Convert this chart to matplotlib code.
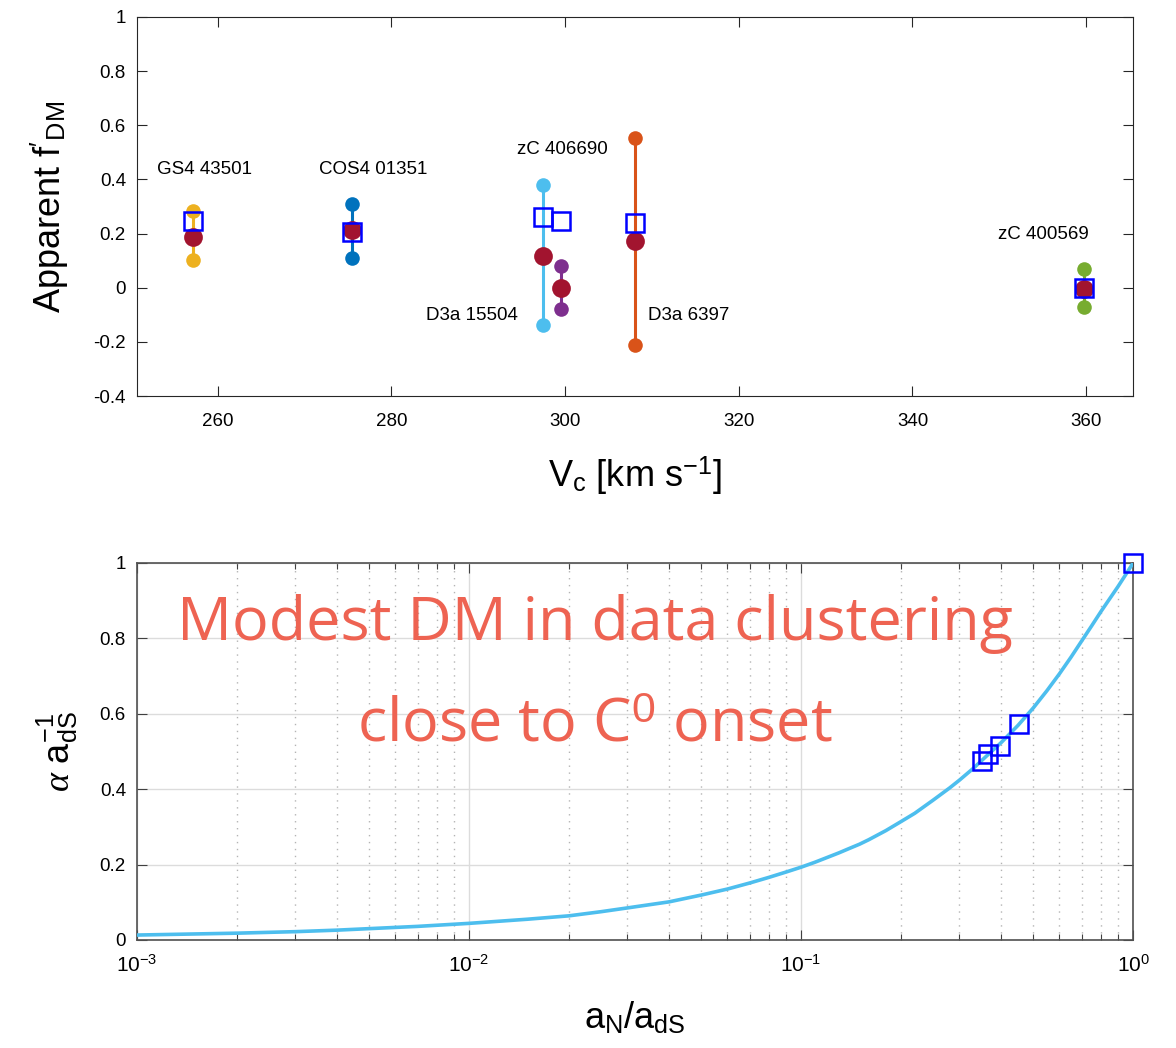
import matplotlib
matplotlib.use('Agg')
import matplotlib.pyplot as plt
from matplotlib.ticker import FormatStrFormatter, LogLocator, NullFormatter

plt.rcParams.update({
    'font.family': ['Liberation Sans', 'DejaVu Sans'],
    'mathtext.fontset': 'custom',
    'mathtext.rm': 'Liberation Sans',
    'mathtext.it': 'Liberation Serif:italic',
    'mathtext.bf': 'Liberation Sans:bold',
    'axes.unicode_minus': False,
    'xtick.direction': 'in',
    'ytick.direction': 'in',
    'xtick.top': True,
    'ytick.right': True,
})

# apparent DM fraction per galaxy
galaxies = ['GS4 43501', 'COS4 01351', 'D3a 15504', 'zC 406690', 'D3a 6397', 'zC 400569']
vc = [257.2, 275.4, 297.5, 299.5, 308.0, 359.7]
f_low = [0.102, 0.110, -0.138, -0.080, -0.211, -0.070]
f_high = [0.284, 0.311, 0.380, 0.081, 0.552, 0.071]
f_best = [0.188, 0.213, 0.118, 0.000, 0.174, -0.003]
f_model = [0.246, 0.207, 0.262, 0.246, 0.239, 0.000]
colors = ['#EDB120', '#0072BD', '#4DBEEE', '#7E2F8E', '#D95319', '#77AC30']

# alpha / a_dS versus a_N / a_dS
an_curve = [1e-3, 2e-3, 3e-3, 4e-3, 5e-3, 7e-3, 1e-2, 1.5e-2, 2e-2, 2.5e-2, 3e-2,
            4e-2, 5e-2, 6e-2, 7e-2, 8e-2, 9e-2, 0.1, 0.11, 0.12, 0.13, 0.14,
            0.15, 0.16, 0.18, 0.2, 0.22, 0.25, 0.28, 0.3, 0.33, 0.36, 0.4,
            0.45, 0.5, 0.55, 0.6, 0.65, 0.7, 0.75, 0.8, 0.85, 0.9, 0.95, 1.0]
alpha_curve = [0.013, 0.018, 0.022, 0.026, 0.030, 0.036, 0.044, 0.055, 0.064,
               0.075, 0.085, 0.101, 0.119, 0.135, 0.151, 0.166, 0.180, 0.193,
               0.206, 0.219, 0.231, 0.243, 0.254, 0.266, 0.290, 0.314, 0.336,
               0.371, 0.403, 0.424, 0.455, 0.486, 0.523, 0.569, 0.615, 0.661,
               0.706, 0.750, 0.793, 0.833, 0.871, 0.905, 0.937, 0.969, 1.0]
an_data = [0.351, 0.366, 0.396, 0.453, 1.0]
alpha_data = [0.476, 0.493, 0.515, 0.574, 1.0]

red = '#A2142F'
blue = '#0000FF'

fig = plt.figure(figsize=(11.76, 10.48), dpi=100)
ax1 = fig.add_axes([0.1165, 0.6221, 0.847, 0.3617])
ax2 = fig.add_axes([0.1165, 0.1031, 0.847, 0.3597])

# --- top panel ---
for x, lo, hi, c in zip(vc, f_low, f_high, colors):
    ax1.plot([x, x], [lo, hi], '-', color=c, lw=2.2, zorder=2)
    ax1.plot([x, x], [lo, hi], 'o', color=c, ms=10.5, mec='none', zorder=3)
ax1.plot(vc, f_best, 'o', color=red, ms=13.5, mec='none', ls='none', zorder=4)
ax1.plot(vc, f_model, 's', mfc='none', mec=blue, mew=1.8, ms=13, ls='none', zorder=5)

label_pos = [(258.5, 0.438), (277.9, 0.438), (289.3, -0.103),
             (299.7, 0.51), (314.2, -0.103), (355.1, 0.196)]
for name, (lx, ly) in zip(galaxies, label_pos):
    ax1.text(lx, ly, name, ha='center', va='center', fontsize=13.5, color='black')

ax1.set_xlim(250.7, 365.4)
ax1.set_ylim(-0.4, 1)
ax1.set_xticks([260, 280, 300, 320, 340, 360])
ax1.set_yticks([-0.4, -0.2, 0, 0.2, 0.4, 0.6, 0.8, 1])
ax1.yaxis.set_major_formatter(FormatStrFormatter('%g'))
ax1.tick_params(labelsize=13.5, length=7, width=0.8, color='#262626', pad=8)
ax1.tick_params(axis='x', pad=12)
for sp in ax1.spines.values():
    sp.set_color('#262626')
ax1.set_ylabel(r"Apparent $\mathrm{f}'_{\mathrm{DM}}$", fontsize=26, labelpad=16)
ax1.set_xlabel(r"$\mathrm{V}_{\mathrm{c}}$ [km s$^{\mathrm{-1}}$]", fontsize=26, labelpad=18)

# --- bottom panel ---
ax2.semilogx(an_curve, alpha_curve, '-', color='#4DBEEE', lw=2.6, zorder=3,
             solid_joinstyle='round')
ax2.plot(an_data, alpha_data, 's', mfc='none', mec=blue, mew=1.8, ms=13, ls='none',
         zorder=4, clip_on=False)
ax2.set_xlim(1e-3, 1)
ax2.set_ylim(0, 1)
ax2.set_yticks([0, 0.2, 0.4, 0.6, 0.8, 1])
ax2.yaxis.set_major_formatter(FormatStrFormatter('%g'))
ax2.xaxis.set_major_locator(LogLocator(base=10, numticks=10))
ax2.xaxis.set_minor_locator(LogLocator(base=10, subs=range(2, 10), numticks=20))
ax2.xaxis.set_minor_formatter(NullFormatter())
ax2.grid(True, which='major', color='#dcdcdc', lw=1, ls='-', zorder=0)
ax2.grid(True, which='minor', axis='x', color='#b4b4b4', lw=1, ls=(0, (1, 4)), zorder=0)
ax2.tick_params(which='major', labelsize=15, length=7, width=0.8, color='#404040', pad=10)
ax2.tick_params(axis='y', which='major', labelsize=13.5, pad=8)
ax2.tick_params(which='minor', length=4, width=0.8, color='#404040')
for sp in ax2.spines.values():
    sp.set_color('#505050')
    sp.set_linewidth(1.2)
ax2.set_axisbelow(True)
ax2.set_ylabel(r"$\alpha$ $\mathrm{a}^{\mathrm{-1}}_{\mathrm{dS}}$", fontsize=26, labelpad=14)
ax2.set_xlabel(r"$\mathrm{a}_{\mathrm{N}}/\mathrm{a}_{\mathrm{dS}}$", fontsize=26, labelpad=18)

# handwritten-style note
note = '#EE6352'
fig.text(0.506, 0.3893, 'Modest DM in data clustering', ha='center', va='baseline',
         fontsize=44, color=note, family=['Open Sans', 'DejaVu Sans'])
fig.text(0.506, 0.292, r'close to C$^{\mathrm{0}}$ onset', ha='center', va='baseline',
         fontsize=44, color=note, family=['Open Sans', 'DejaVu Sans'])

fig.savefig('out.png', dpi=100)
